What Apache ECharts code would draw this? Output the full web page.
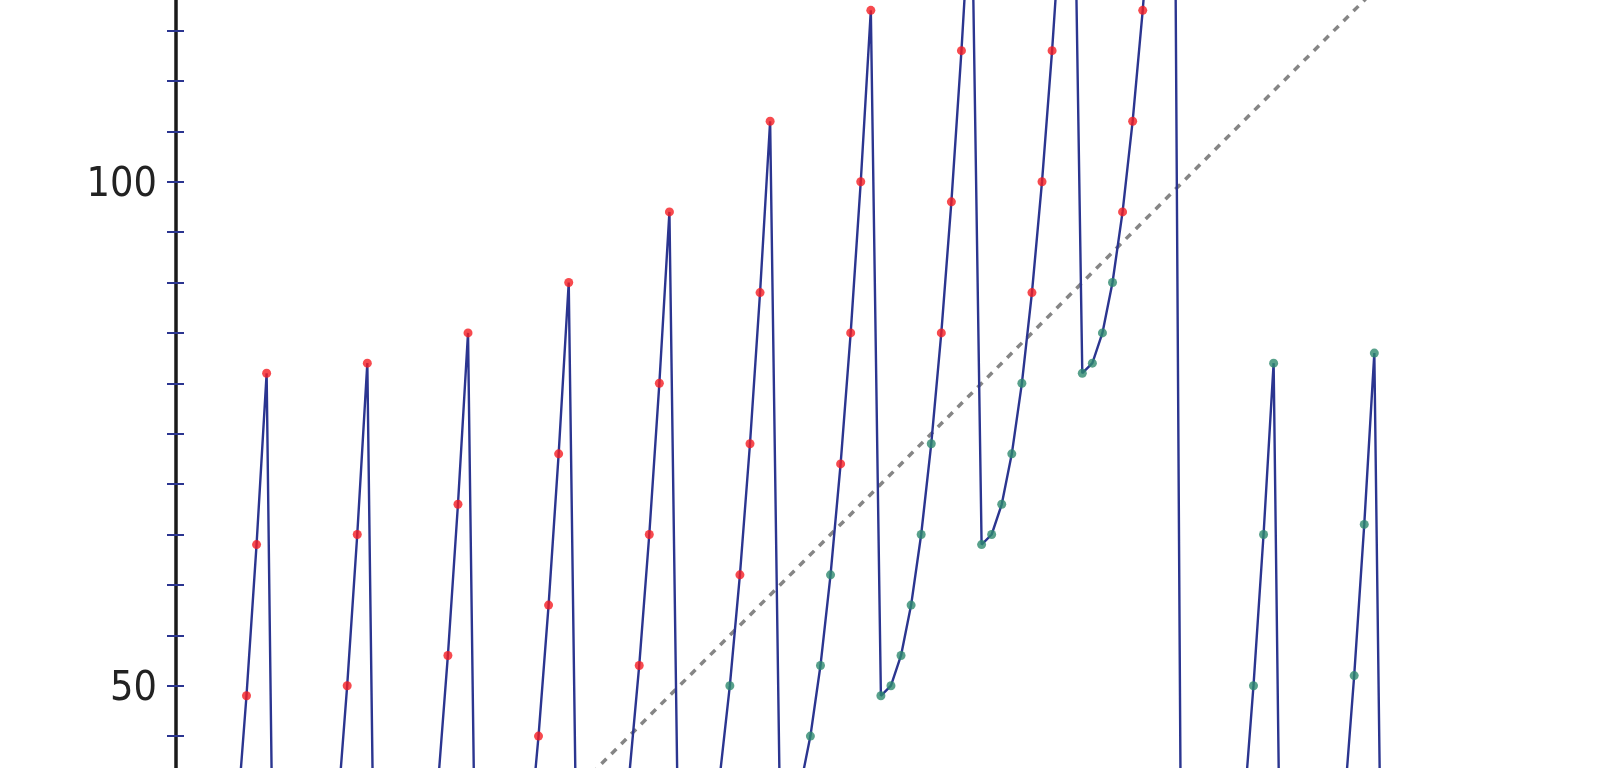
<!DOCTYPE html>
<html>
<head>
<meta charset="utf-8">
<script src="https://cdn.jsdelivr.net/npm/echarts@6/dist/echarts.min.js"></script>
<style>
html,body{margin:0;padding:0;background:#fff;}
#chart{width:1600px;height:768px;}
</style>
</head>
<body>
<div id="chart"></div>
<script>
// n = 1..120 ; value = sum of squares of the digits of n
const values = [
  1, 4, 9, 16, 25, 36, 49, 64, 81,
  1, 2, 5, 10, 17, 26, 37, 50, 65, 82,
  4, 5, 8, 13, 20, 29, 40, 53, 68, 85,
  9, 10, 13, 18, 25, 34, 45, 58, 73, 90,
  16, 17, 20, 25, 32, 41, 52, 65, 80, 97,
  25, 26, 29, 34, 41, 50, 61, 74, 89, 106,
  36, 37, 40, 45, 52, 61, 72, 85, 100, 117,
  49, 50, 53, 58, 65, 74, 85, 98, 113, 130,
  64, 65, 68, 73, 80, 89, 100, 113, 128, 145,
  81, 82, 85, 90, 97, 106, 117, 130, 145, 162,
  1, 2, 5, 10, 17, 26, 37, 50, 65, 82,
  2, 3, 6, 11, 18, 27, 38, 51, 66, 83,
  5
];
const startN = 1;
const identityEnds = [0, 140];
const yTickLabels = [50, 100];

const pts = values.map((v, i) => [startN + i, v]);
const above = pts.filter(p => p[1] > p[0]);
const below = pts.filter(p => p[1] < p[0]);

const chart = echarts.init(document.getElementById('chart'), null, {renderer: 'canvas'});
const font = "'Liberation Sans Narrow', 'Arial Narrow', 'Noto Sans Condensed', 'DejaVu Sans Condensed', 'Liberation Sans', sans-serif";
const yCommon = {
  type: 'value', min: 40, max: 125, interval: 5, position: 'left',
  splitLine: {show: false}
};
chart.setOption({
  animation: false,
  backgroundColor: '#ffffff',
  grid: {left: 176, right: 14.2, top: -70.3, bottom: -18.5, containLabel: false, outerBoundsMode: 'none'},
  xAxis: {type: 'value', min: 0, max: 140, show: false},
  yAxis: [
    Object.assign({}, yCommon, {
      axisLine: {show: true, lineStyle: {color: '#1a1a1a', width: 3.5}},
      axisTick: {show: true, inside: false, length: 9, lineStyle: {color: '#2b3590', width: 2}},
      axisLabel: {
        show: true, margin: 19, color: '#222',
        formatter: v => yTickLabels.includes(v) ? '{t|' + v + '}' : '',
        rich: {t: {fontSize: 41, fontFamily: font, color: '#222', padding: [7, 0, 0, 0]}}
      }
    }),
    Object.assign({}, yCommon, {
      axisLine: {show: false},
      axisTick: {show: true, inside: true, length: 8, lineStyle: {color: '#2b3590', width: 2}},
      axisLabel: {show: false}
    })
  ],
  series: [
    {
      type: 'line', data: identityEnds.map(v => [v, v]), showSymbol: false, silent: true,
      lineStyle: {color: '#858585', width: 3.5, type: [7, 7]}, z: 1
    },
    {
      type: 'line', data: pts, showSymbol: false,
      lineStyle: {color: '#2b3590', width: 2.4}, z: 2
    },
    {
      type: 'scatter', data: above, symbolSize: 9,
      itemStyle: {color: '#f51d22'}, z: 3
    },
    {
      type: 'scatter', data: below, symbolSize: 9,
      itemStyle: {color: '#2e8a6e'}, z: 3
    }
  ]
});
</script>
</body>
</html>
